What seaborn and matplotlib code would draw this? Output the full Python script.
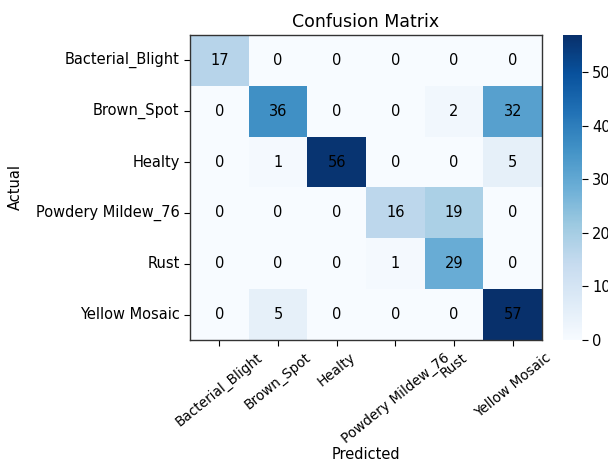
import numpy as np
import pandas as pd
import matplotlib
matplotlib.use("Agg")
import matplotlib.pyplot as plt
import seaborn as sns

classes = ["Bacterial_Blight", "Brown_Spot", "Healty",
           "Powdery Mildew_76", "Rust", "Yellow Mosaic"]

row_bacterial = [17, 0, 0, 0, 0, 0]
row_brown = [0, 36, 0, 0, 2, 32]
row_healty = [0, 1, 56, 0, 0, 5]
row_powdery = [0, 0, 0, 16, 19, 0]
row_rust = [0, 0, 0, 1, 29, 0]
row_yellow = [0, 5, 0, 0, 0, 57]

cm = pd.DataFrame([row_bacterial, row_brown, row_healty,
                   row_powdery, row_rust, row_yellow],
                  index=classes, columns=classes)

fig = plt.figure(figsize=(6.08, 4.68), dpi=100)
ax = fig.add_axes([0.3125, 0.2735, 0.579, 0.652])
cax = fig.add_axes([0.926, 0.2735, 0.031, 0.652])

sns.heatmap(cm, ax=ax, cbar_ax=cax, cmap="Blues", annot=True, fmt="d",
            vmin=0, vmax=cm.values.max(),
            annot_kws={"color": "black", "fontsize": 10.5})

# keep the border like plt.imshow
for s in ax.spines.values():
    s.set_visible(True)
    s.set_linewidth(1.0)
    s.set_color("#333333")
cbar = ax.collections[0].colorbar
cbar.outline.set_visible(True)
cbar.outline.set_edgecolor("#333333")
cbar.set_ticks([0, 10, 20, 30, 40, 50])
cbar.ax.tick_params(labelsize=10.5, length=4)

ax.set_xticklabels(classes, rotation=39, ha="center", fontsize=9.8)
ax.set_yticklabels(classes, rotation=0, fontsize=10.5)
ax.tick_params(length=4)
ax.set_title("Confusion Matrix", fontsize=12.5, pad=6)
ax.set_xlabel("Predicted", fontsize=10.5, labelpad=1)
ax.set_ylabel("Actual", fontsize=10.5, labelpad=9)

fig.savefig("out.png", dpi=100)
plt.close(fig)
